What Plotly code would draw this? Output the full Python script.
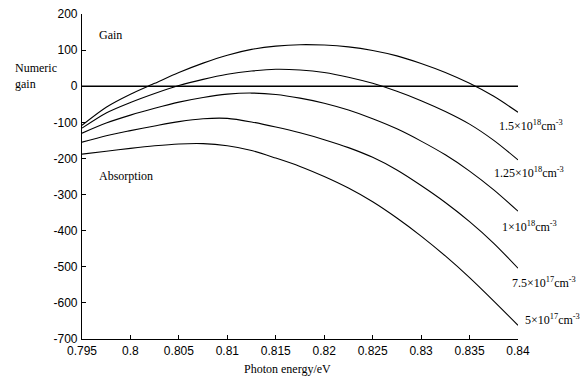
import plotly.graph_objects as go

energy = [0.795, 0.7975, 0.8, 0.8025, 0.805, 0.8075, 0.81, 0.8125, 0.815, 0.8175,
          0.82, 0.8225, 0.825, 0.8275, 0.83, 0.8325, 0.835, 0.8375, 0.84]

gain_15e18 = [-108, -58, -22, 8, 38, 64, 86, 102, 111, 115,
              114, 109, 99, 84, 63, 38, 8, -28, -72]
gain_125e18 = [-116, -74, -45, -20, 2, 19, 33, 42, 47, 45,
               38, 25, 8, -14, -40, -70, -105, -150, -204]
gain_1e18 = [-130, -102, -80, -61, -44, -31, -22, -19, -23, -33,
             -47, -66, -90, -118, -152, -190, -235, -287, -346]
gain_75e17 = [-155, -137, -123, -110, -98, -90, -89, -99, -113, -129,
              -148, -170, -197, -232, -275, -322, -375, -435, -504]
gain_5e17 = [-188, -180, -172, -165, -160, -159, -165, -178, -199, -222,
             -250, -282, -320, -365, -415, -470, -530, -595, -662]

series = [gain_15e18, gain_125e18, gain_1e18, gain_75e17, gain_5e17]
labels = ["1.5×10<sup>18</sup>cm<sup>-3</sup>",
          "1.25×10<sup>18</sup>cm<sup>-3</sup>",
          "1×10<sup>18</sup>cm<sup>-3</sup>",
          "7.5×10<sup>17</sup>cm<sup>-3</sup>",
          "5×10<sup>17</sup>cm<sup>-3</sup>"]
label_x = [0.8378, 0.8373, 0.8381, 0.8392, 0.8405]
label_y = [-108, -238, -388, -543, -646]

x_min, x_max = 0.795, 0.84
x_ticks = [0.795, 0.8, 0.805, 0.81, 0.815, 0.82, 0.825, 0.83, 0.835, 0.84]
x_ticktext = ["0.795", "0.8", "0.805", "0.81", "0.815", "0.82", "0.825", "0.83", "0.835", "0.84"]
y_ticks = [200, 100, 0, -100, -200, -300, -400, -500, -600, -700]
y_ticktext = ["200", "100", "0", "-100", "-200", "-300", "-400", "-500", "-600", "-700"]

serif = "Liberation Serif, Times New Roman, serif"
sans = "Liberation Sans, Arial, sans-serif"

fig = go.Figure()
fig.add_hline(y=0, line=dict(color="black", width=1.6))
for ys in series:
    fig.add_trace(go.Scatter(x=energy, y=ys, mode="lines",
                             line=dict(color="black", width=1.1, shape="spline", smoothing=0.8),
                             showlegend=False, hoverinfo="skip"))

for lx, ly, txt in zip(label_x, label_y, labels):
    fig.add_annotation(x=(lx - x_min) / (x_max - x_min), xref="paper", y=ly, yref="y",
                       text=txt, showarrow=False, xanchor="left",
                       yanchor="middle", font=dict(family=serif, size=12, color="black"))

fig.add_annotation(x=0.7965, y=141, text="Gain", showarrow=False, xanchor="left",
                   font=dict(family=serif, size=12, color="black"))
fig.add_annotation(x=0.7965, y=-249, text="Absorption", showarrow=False, xanchor="left",
                   font=dict(family=serif, size=12, color="black"))
fig.add_annotation(x=-0.158, y=0.81, xref="paper", yref="paper", text="Numeric<br>gain",
                   showarrow=False, xanchor="left", yanchor="middle", align="left",
                   font=dict(family=serif, size=12, color="black"))
fig.add_annotation(x=0.472, y=-0.092, xref="paper", yref="paper", text="Photon energy/eV",
                   showarrow=False, xanchor="center", yanchor="middle",
                   font=dict(family=serif, size=12, color="black"))

fig.update_layout(
    width=583, height=385,
    margin=dict(l=82, r=65, t=14, b=46, autoexpand=False),
    plot_bgcolor="white", paper_bgcolor="white",
    font=dict(family=sans, size=12, color="black"),
)
fig.update_xaxes(range=[x_min, x_max], tickvals=x_ticks, ticktext=x_ticktext,
                 showgrid=False, zeroline=False, showline=True, linecolor="black",
                 linewidth=1.2, ticks="inside", ticklen=4, tickcolor="black",
                 ticklabeloverflow="allow", automargin=False,
                 tickfont=dict(family=sans, size=12, color="black"))
fig.update_yaxes(range=[-700, 200], tickvals=y_ticks, ticktext=y_ticktext,
                 showgrid=False, zeroline=False, showline=True, linecolor="black",
                 linewidth=1.2, ticks="inside", ticklen=4, tickcolor="black",
                 ticklabelstandoff=1, ticklabeloverflow="allow", automargin=False,
                 tickfont=dict(family=sans, size=12, color="black"))

fig.write_html("out.html", config={"displayModeBar": False},
               post_script="document.body.style.margin='0px';document.body.style.overflow='hidden';")
